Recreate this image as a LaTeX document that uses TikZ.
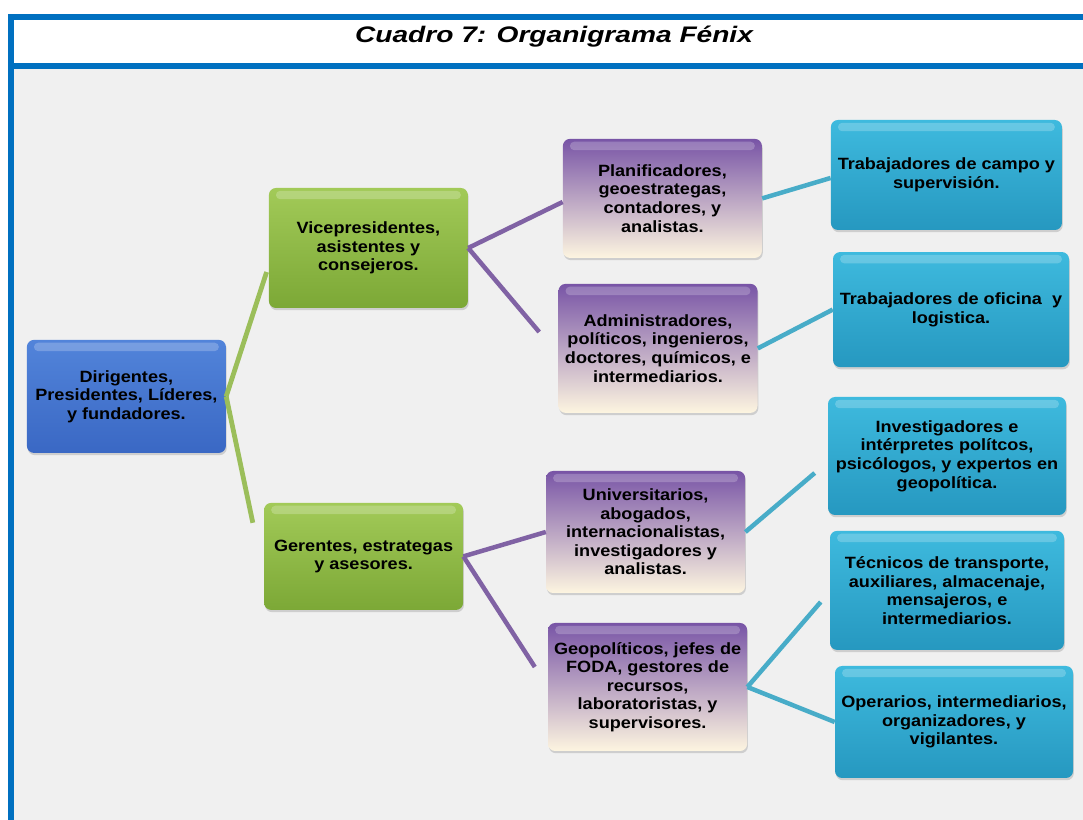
\documentclass[tikz,border=0pt]{standalone}
\usepackage{fontspec}
\setmainfont[FakeStretch=1.11]{Liberation Sans}
\newfontfamily\titlefont[FakeStretch=1.25]{Liberation Sans}
\usetikzlibrary{shadows}

\definecolor{frameblue}{RGB}{0,112,192}
\definecolor{panelgray}{RGB}{240,240,240}
\definecolor{rootT}{RGB}{82,132,218}
\definecolor{rootB}{RGB}{58,104,196}
\definecolor{greenT}{RGB}{162,202,88}
\definecolor{greenB}{RGB}{124,168,54}
\definecolor{purpleT}{RGB}{120,84,166}
\definecolor{purpleB}{RGB}{253,245,224}
\definecolor{tealT}{RGB}{62,186,222}
\definecolor{tealB}{RGB}{38,152,192}
\definecolor{linegreen}{RGB}{155,190,90}
\definecolor{linepurple}{RGB}{128,98,164}
\definecolor{lineteal}{RGB}{72,172,200}

\begin{document}
\begin{tikzpicture}[font=\fontsize{11.6}{13.2}\selectfont\bfseries,
  frame/.style={draw=frameblue,line width=0.15cm},
  card/.style={rounded corners=5pt,align=center,inner sep=1pt,
    drop shadow={opacity=.3,shadow xshift=.6pt,shadow yshift=-1.6pt},
    path picture={\fill[white,opacity=.22,rounded corners=3pt]
      ([xshift=5pt,yshift=-2pt]path picture bounding box.north west) rectangle
      ([xshift=-5pt,yshift=-8pt]path picture bounding box.north east);}},
  rootbox/.style={card,top color=rootT,bottom color=rootB,minimum width=4.975cm,minimum height=2.825cm},
  greenbox/.style={card,top color=greenT,bottom color=greenB,minimum width=4.975cm,minimum height=3cm},
  purplebox/.style={card,top color=purpleT,bottom color=purpleB,minimum width=4.975cm,minimum height=2.975cm},
  tealbox/.style={card,top color=tealT,bottom color=tealB,minimum width=5.9cm,minimum height=2.9cm},
  glink/.style={draw=linegreen,line width=3.4pt},
  plink/.style={draw=linepurple,line width=3.2pt},
  tlink/.style={draw=lineteal,line width=3.2pt}]
\useasboundingbox (0,0) rectangle (27.075,20.5);
% frame and header
\fill[white] (0,0) rectangle (27.075,20.5);
\fill[panelgray] (0.275,0) rectangle (27.075,18.85);
\draw[frame] (27.075,20.075) -- (0.275,20.075) -- (0.275,0);
\draw[frame] (0.275,18.85) -- (27.075,18.85);
\node[font=\titlefont\fontsize{16}{19}\selectfont\bfseries\itshape,anchor=base] (title) at (13.85,19.425) {Cuadro 7: Organigrama Fénix};

% boxes
\node[rootbox] (root) at (3.16,10.59) {Dirigentes,\\Presidentes, Líderes,\\y fundadores.};
\node[greenbox] (vice) at (9.21,14.3) {Vicepresidentes,\\asistentes y\\consejeros.};
\node[greenbox,minimum height=2.675cm] (ger) at (9.09,6.59) {Gerentes, estrategas\\y asesores.};
\node[purplebox] (plan) at (16.56,15.54) {Planificadores,\\geoestrategas,\\contadores, y\\analistas.};
\node[purplebox,minimum height=3.225cm] (admin) at (16.45,11.79) {Administradores,\\políticos, ingenieros,\\doctores, químicos, e\\intermediarios.};
\node[purplebox,minimum height=3.05cm] (univ) at (16.14,7.2) {Universitarios,\\abogados,\\internacionalistas,\\investigadores y\\analistas.};
\node[purplebox,minimum height=3.2cm] (geop) at (16.19,3.325) {Geopolíticos, jefes de\\FODA, gestores de\\recursos,\\laboratoristas, y\\supervisores.};
\node[tealbox,minimum width=5.775cm,minimum height=2.75cm] (campo) at (23.66,16.125) {Trabajadores de campo y\\supervisión.};
\node[tealbox,minimum height=2.875cm] (oficina) at (23.775,12.76) {Trabajadores de oficina\ \ y\\logistica.};
\node[tealbox,minimum width=5.95cm,minimum height=2.95cm] (invest) at (23.675,9.1) {Investigadores e\\intérpretes polítcos,\\psicólogos, y expertos en\\geopolítica.};
\node[tealbox,minimum width=5.85cm,minimum height=2.975cm] (tecn) at (23.675,5.74) {Técnicos de transporte,\\auxiliares, almacenaje,\\mensajeros, e\\intermediarios.};
\node[tealbox,minimum width=5.95cm,minimum height=2.8cm] (oper) at (23.85,2.45) {Operarios, intermediarios,\\organizadores, y\\vigilantes.};

% links
\draw[glink] (root.east) -- ([shift={(-0.05,-0.6)}]vice.west);
\draw[glink] (root.east) -- ([shift={(-0.275,0.84)}]ger.west);
\draw[plink] (vice.east) -- ([yshift=-0.09cm]plan.west);
\draw[plink] (vice.east) -- ([shift={(-0.475,0.41)}]admin.west);
\draw[plink] (ger.east) -- (univ.west);
\draw[plink] (ger.east) -- ([shift={(-0.325,0.5)}]geop.west);
\draw[tlink] (plan.east) -- ([yshift=-0.075cm]campo.west);
\draw[tlink] (admin.east) -- (oficina.west);
\draw[tlink] (univ.east) -- ([shift={(-0.325,-0.425)}]invest.west);
\draw[tlink] (geop.east) -- ([shift={(-0.225,-0.29)}]tecn.west);
\draw[tlink] (geop.east) -- (oper.west);
\end{tikzpicture}
\end{document}
